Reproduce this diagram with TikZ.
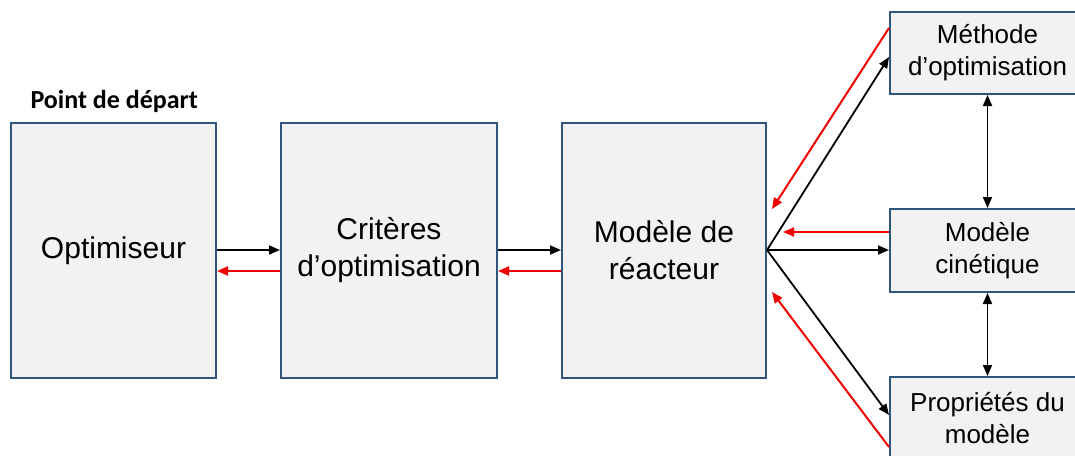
\documentclass[tikz,border=0pt]{standalone}
\usepackage{fontspec}
\setmainfont{Liberation Sans}
\newfontfamily\calib{Carlito}
\usetikzlibrary{arrows.meta}
\definecolor{boxborder}{RGB}{47,85,125}
\definecolor{boxfill}{RGB}{242,242,242}
\definecolor{redarrow}{RGB}{240,0,0}
\tikzset{
  bigbox/.style={draw=boxborder, fill=boxfill, line width=2pt, align=center, inner sep=0pt,
    font=\fontsize{30}{37}\selectfont},
  smallbox/.style={draw=boxborder, fill=boxfill, line width=2pt, align=center, inner sep=0pt,
    font=\fontsize{26}{32}\selectfont},
  blk/.style={draw=black, line width=1.8pt, -{Triangle[length=11pt,width=9pt]}},
  blkboth/.style={draw=black, line width=1.8pt, {Triangle[length=11pt,width=9pt]}-{Triangle[length=11pt,width=9pt]}},
  redar/.style={draw=redarrow, line width=2pt, -{Triangle[length=11pt,width=9pt]}}
}
\begin{document}
\begin{tikzpicture}[x=1pt,y=-1pt]
\useasboundingbox (0,0) rectangle (1075,455);
\clip (0,0) rectangle (1075,455);
\fill[white] (0,0) rectangle (1075,455);

\node[font=\calib\bfseries\fontsize{26}{30}\selectfont, anchor=west] (start) at (27,101) {Point de départ};

\node[bigbox, minimum width=205pt, minimum height=255pt] (opt) at (113.5,250.5) {Optimiseur};
\node[bigbox, minimum width=216pt, minimum height=255pt] (crit) at (389,250.5) {Critères\\d’optimisation};
\node[bigbox, minimum width=204pt, minimum height=255pt] (reac) at (664,250.5) {Modèle de\\réacteur};

\node[smallbox, minimum width=195pt, minimum height=82pt] (meth) at (987.5,53) {Méthode\\d’optimisation};
\node[smallbox, minimum width=195pt, minimum height=83pt] (cin) at (987.5,250.5) {Modèle\\cinétique};
\node[smallbox, minimum width=195pt, minimum height=83pt] (prop) at (987.5,418.5) {Propriétés du\\modèle};

% left chain
\draw[blk] (opt.east |- 0,250) -- (crit.west |- 0,250);
\draw[redar] (crit.west |- 0,271) -- (opt.east |- 0,271);
\draw[blk] (crit.east |- 0,250) -- (reac.west |- 0,250);
\draw[redar] (reac.west |- 0,271) -- (crit.east |- 0,271);

% fan
\coordinate (fan) at (reac.east |- 0,250);
\draw[blk] (fan) -- (meth.west |- 0,57);
\draw[blk] (fan) -- (cin.west |- 0,250);
\draw[blk] (fan) -- (prop.west |- 0,415);

\coordinate (r1) at (772,209);
\coordinate (r2) at (783,232);
\coordinate (r3) at (772,292);
\draw[redar] (meth.west |- 0,28) -- (r1);
\draw[redar] (cin.west |- 0,232) -- (r2);
\draw[redar] (prop.west |- 0,447) -- (r3);

% vertical
\draw[blkboth] (meth.south) -- (cin.north);
\draw[blkboth] (cin.south) -- (prop.north);
\end{tikzpicture}
\end{document}
